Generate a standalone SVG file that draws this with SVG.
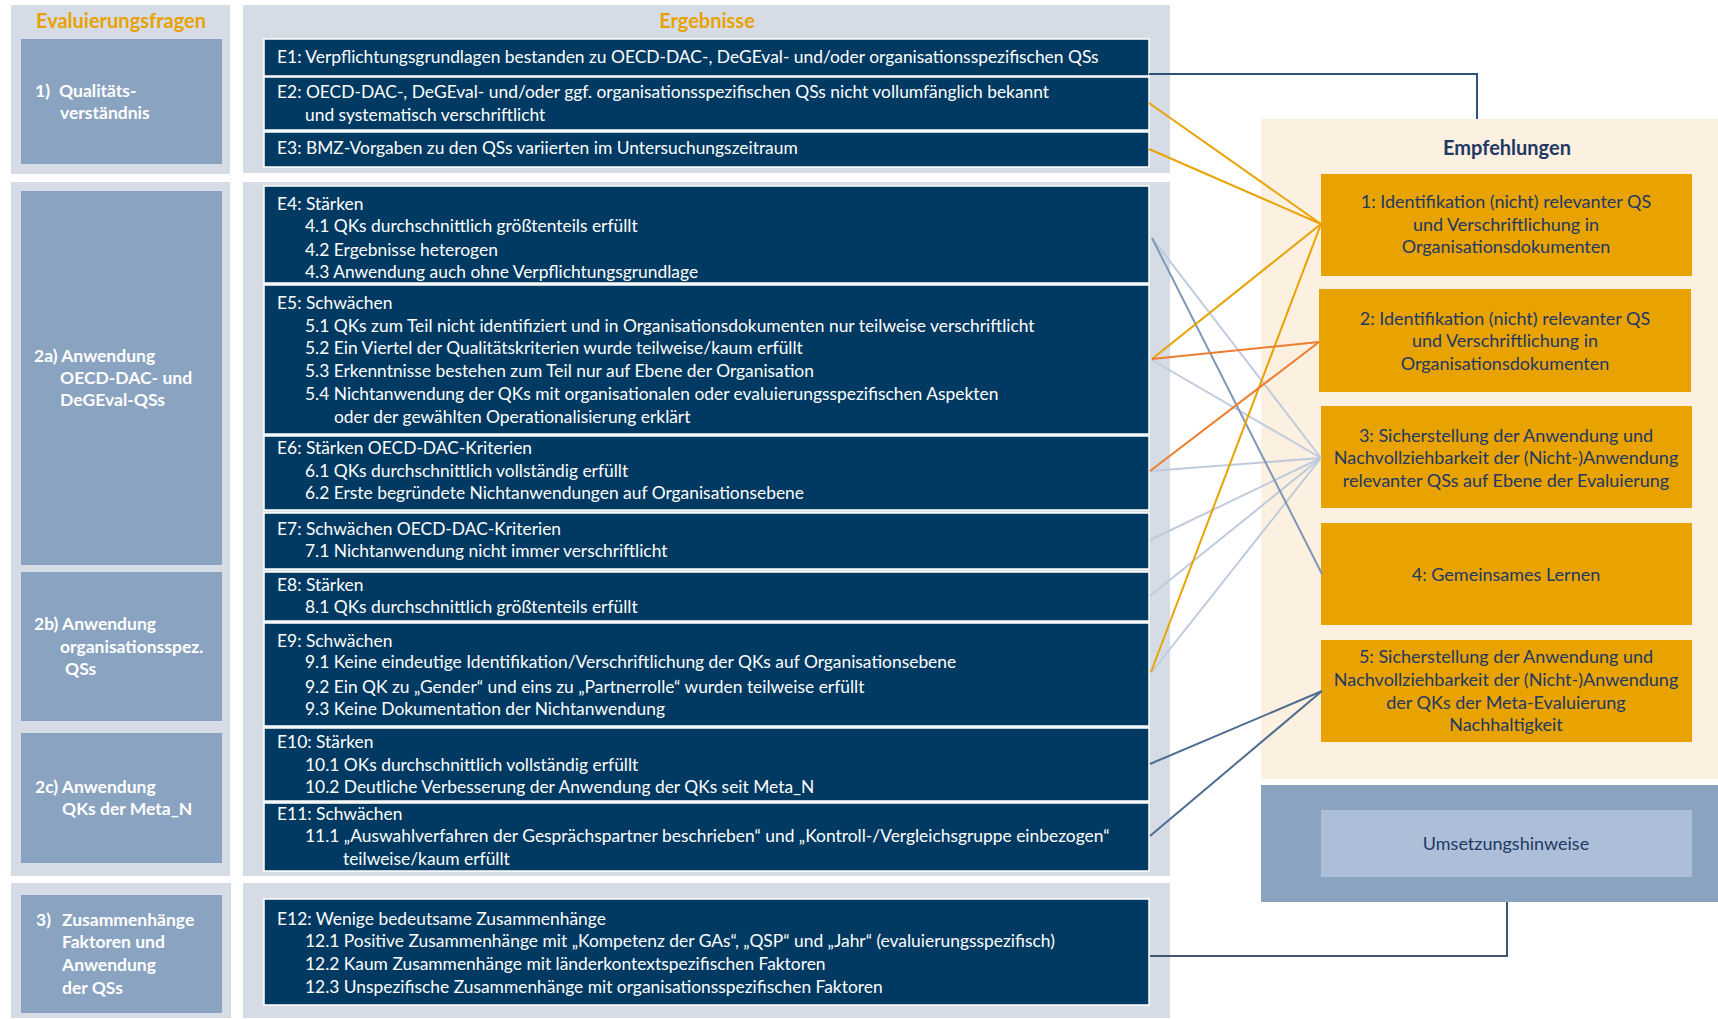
<svg xmlns="http://www.w3.org/2000/svg" width="1718" height="1019" viewBox="0 0 1718 1019">
<style>
.panel{fill:#D6DCE6}
.qbox{fill:#8AA3C0}
.ebox{fill:#003A62;stroke:#FFFFFF;stroke-width:1.5}
.rec{fill:#E8A300}
.t{font-family:Lato,"Liberation Sans",sans-serif;font-size:17.4px}
.w{fill:#FFFFFF}
.title{font-family:Lato,"Liberation Sans",sans-serif;font-size:20px;font-weight:bold;text-anchor:middle}
.ql{font-family:Lato,"Liberation Sans",sans-serif;font-size:17.5px;font-weight:bold;fill:#FFFFFF}
.rt{font-family:Lato,"Liberation Sans",sans-serif;font-size:18px;fill:#1F3864;text-anchor:middle}
.c{fill:none;stroke-width:2}
</style>
<rect width="1718" height="1019" fill="#FFFFFF"/>

<!-- Evaluierungsfragen column -->
<g id="col-fragen">
<rect class="panel" x="11" y="5" width="219" height="169"/>
<rect class="panel" x="11" y="182" width="219" height="694"/>
<rect class="panel" x="11" y="883" width="220" height="135"/>
<text class="title" x="121" y="28" fill="#E9A100">Evaluierungsfragen</text>
</g>
<g id="q1">
<rect class="qbox" x="21" y="39" width="201" height="125"/>
<text class="ql" x="35" y="97">1)</text>
<text class="ql" x="59" y="97">Qualitäts-</text>
<text class="ql" x="60" y="119">verständnis</text>
</g>
<g id="q2a">
<rect class="qbox" x="21" y="191" width="201" height="374"/>
<text class="ql" x="34" y="362">2a) Anwendung</text>
<text class="ql" x="60" y="384">OECD-DAC- und</text>
<text class="ql" x="60" y="406">DeGEval-QSs</text>
</g>
<g id="q2b">
<rect class="qbox" x="21" y="572" width="201" height="149"/>
<text class="ql" x="34" y="630">2b) Anwendung</text>
<text class="ql" x="60" y="653">organisationsspez.</text>
<text class="ql" x="65" y="675">QSs</text>
</g>
<g id="q2c">
<rect class="qbox" x="21" y="733" width="201" height="130"/>
<text class="ql" x="35" y="793">2c) Anwendung</text>
<text class="ql" x="62" y="815">QKs der Meta_N</text>
</g>
<g id="q3">
<rect class="qbox" x="21" y="895" width="201" height="118"/>
<text class="ql" x="36" y="926">3)</text>
<text class="ql" x="62" y="926">Zusammenhänge</text>
<text class="ql" x="62" y="948">Faktoren und</text>
<text class="ql" x="62" y="971">Anwendung</text>
<text class="ql" x="62" y="994">der QSs</text>
</g>

<!-- Ergebnisse column -->
<g id="col-ergebnisse">
<rect class="panel" x="243" y="5" width="927" height="168"/>
<rect class="panel" x="243" y="182" width="927" height="694"/>
<rect class="panel" x="243" y="883" width="927" height="135"/>
<text class="title" x="707" y="28" fill="#E9A100">Ergebnisse</text>
</g>
<g id="e1">
<rect class="ebox" x="264" y="39" width="885" height="37"/>
<text class="t w" x="277" y="63">E1: Verpflichtungsgrundlagen bestanden zu OECD-DAC-, DeGEval- und/oder organisationsspezifischen QSs</text>
</g>
<g id="e2">
<rect class="ebox" x="264" y="77" width="885" height="53"/>
<text class="t w" x="277" y="98">E2: OECD-DAC-, DeGEval- und/oder ggf. organisationsspezifischen QSs nicht vollumfänglich bekannt</text>
<text class="t w" x="305" y="121">und systematisch verschriftlicht</text>
</g>
<g id="e3">
<rect class="ebox" x="264" y="132" width="885" height="35"/>
<text class="t w" x="277" y="154">E3: BMZ-Vorgaben zu den QSs variierten im Untersuchungszeitraum</text>
</g>
<g id="e4">
<rect class="ebox" x="264" y="186" width="885" height="97"/>
<text class="t w" x="277" y="210">E4: Stärken</text>
<text class="t w" x="305" y="232">4.1 QKs durchschnittlich größtenteils erfüllt</text>
<text class="t w" x="305" y="256">4.2 Ergebnisse heterogen</text>
<text class="t w" x="305" y="278">4.3 Anwendung auch ohne Verpflichtungsgrundlage</text>
</g>
<g id="e5">
<rect class="ebox" x="264" y="285" width="885" height="149"/>
<text class="t w" x="277" y="309">E5: Schwächen</text>
<text class="t w" x="305" y="332">5.1 QKs zum Teil nicht identifiziert und in Organisationsdokumenten nur teilweise verschriftlicht</text>
<text class="t w" x="305" y="354">5.2 Ein Viertel der Qualitätskriterien wurde teilweise/kaum erfüllt</text>
<text class="t w" x="305" y="377">5.3 Erkenntnisse bestehen zum Teil nur auf Ebene der Organisation</text>
<text class="t w" x="305" y="400">5.4 Nichtanwendung der QKs mit organisationalen oder evaluierungsspezifischen Aspekten</text>
<text class="t w" x="334" y="423">oder der gewählten Operationalisierung erklärt</text>
</g>
<g id="e6">
<rect class="ebox" x="264" y="436" width="885" height="74"/>
<text class="t w" x="277" y="454">E6: Stärken OECD-DAC-Kriterien</text>
<text class="t w" x="305" y="477">6.1 QKs durchschnittlich vollständig erfüllt</text>
<text class="t w" x="305" y="499">6.2 Erste begründete Nichtanwendungen auf Organisationsebene</text>
</g>
<g id="e7">
<rect class="ebox" x="264" y="513" width="885" height="56"/>
<text class="t w" x="277" y="535">E7: Schwächen OECD-DAC-Kriterien</text>
<text class="t w" x="305" y="557">7.1 Nichtanwendung nicht immer verschriftlicht</text>
</g>
<g id="e8">
<rect class="ebox" x="264" y="572" width="885" height="49"/>
<text class="t w" x="277" y="591">E8: Stärken</text>
<text class="t w" x="305" y="613">8.1 QKs durchschnittlich größtenteils erfüllt</text>
</g>
<g id="e9">
<rect class="ebox" x="264" y="623" width="885" height="103"/>
<text class="t w" x="277" y="647">E9: Schwächen</text>
<text class="t w" x="305" y="668">9.1 Keine eindeutige Identifikation/Verschriftlichung der QKs auf Organisationsebene</text>
<text class="t w" x="305" y="693">9.2 Ein QK zu „Gender“ und eins zu „Partnerrolle“ wurden teilweise erfüllt</text>
<text class="t w" x="305" y="715">9.3 Keine Dokumentation der Nichtanwendung</text>
</g>
<g id="e10">
<rect class="ebox" x="264" y="728" width="885" height="73"/>
<text class="t w" x="277" y="748">E10: Stärken</text>
<text class="t w" x="305" y="771">10.1 OKs durchschnittlich vollständig erfüllt</text>
<text class="t w" x="305" y="793">10.2 Deutliche Verbesserung der Anwendung der QKs seit Meta_N</text>
</g>
<g id="e11">
<rect class="ebox" x="264" y="803" width="885" height="68"/>
<text class="t w" x="277" y="820">E11: Schwächen</text>
<text class="t w" x="305" y="842">11.1 „Auswahlverfahren der Gesprächspartner beschrieben“ und „Kontroll-/Vergleichsgruppe einbezogen“</text>
<text class="t w" x="343" y="865">teilweise/kaum erfüllt</text>
</g>
<g id="e12">
<rect class="ebox" x="264" y="899" width="885" height="106"/>
<text class="t w" x="277" y="925">E12: Wenige bedeutsame Zusammenhänge</text>
<text class="t w" x="305" y="947">12.1 Positive Zusammenhänge mit „Kompetenz der GAs“, „QSP“ und „Jahr“ (evaluierungsspezifisch)</text>
<text class="t w" x="305" y="970">12.2 Kaum Zusammenhänge mit länderkontextspezifischen Faktoren</text>
<text class="t w" x="305" y="993">12.3 Unspezifische Zusammenhänge mit organisationsspezifischen Faktoren</text>
</g>

<!-- Empfehlungen column -->
<g id="col-empfehlungen">
<rect x="1261" y="119" width="457" height="660" fill="#FCF0E0"/>
<text class="title" x="1507" y="155" fill="#1F3864">Empfehlungen</text>
</g>
<g id="r1">
<rect class="rec" x="1321" y="174" width="371" height="102"/>
<text class="rt" x="1506" y="208">1: Identifikation (nicht) relevanter QS</text>
<text class="rt" x="1506" y="231">und Verschriftlichung in</text>
<text class="rt" x="1506" y="253">Organisationsdokumenten</text>
</g>
<g id="r2">
<rect class="rec" x="1319" y="289" width="372" height="103"/>
<text class="rt" x="1505" y="325">2: Identifikation (nicht) relevanter QS</text>
<text class="rt" x="1505" y="347">und Verschriftlichung in</text>
<text class="rt" x="1505" y="370">Organisationsdokumenten</text>
</g>
<g id="r3">
<rect class="rec" x="1321" y="406" width="371" height="102"/>
<text class="rt" x="1506" y="442">3: Sicherstellung der Anwendung und</text>
<text class="rt" x="1506" y="464">Nachvollziehbarkeit der (Nicht-)Anwendung</text>
<text class="rt" x="1506" y="487">relevanter QSs auf Ebene der Evaluierung</text>
</g>
<g id="r4">
<rect class="rec" x="1321" y="523" width="371" height="102"/>
<text class="rt" x="1506" y="581">4: Gemeinsames Lernen</text>
</g>
<g id="r5">
<rect class="rec" x="1321" y="640" width="371" height="102"/>
<text class="rt" x="1506" y="663">5: Sicherstellung der Anwendung und</text>
<text class="rt" x="1506" y="686">Nachvollziehbarkeit der (Nicht-)Anwendung</text>
<text class="rt" x="1506" y="709">der QKs der Meta-Evaluierung</text>
<text class="rt" x="1506" y="731">Nachhaltigkeit</text>
</g>
<g id="umsetzung">
<rect x="1261" y="785" width="457" height="117" fill="#8AA3C0"/>
<rect x="1321" y="810" width="371" height="67" fill="#ADBFD8"/>
<text class="rt" x="1506" y="850" fill="#2B3A55">Umsetzungshinweise</text>
</g>

<!-- Connectors -->
<g id="connectors">
<polyline class="c" points="1149,74 1477,74 1477,119" stroke="#2F5078"/>
<polyline class="c" points="1150,956 1507,956 1507,902" stroke="#44546A"/>
<line class="c" x1="1152" y1="238" x2="1321" y2="458" stroke="#BFCBDD"/>
<line class="c" x1="1152" y1="360" x2="1321" y2="458" stroke="#BFCBDD"/>
<line class="c" x1="1150" y1="471" x2="1321" y2="458" stroke="#BFCBDD"/>
<line class="c" x1="1150" y1="540" x2="1321" y2="458" stroke="#BFCBDD"/>
<line class="c" x1="1150" y1="596" x2="1321" y2="458" stroke="#BFCBDD"/>
<line class="c" x1="1151" y1="673" x2="1321" y2="458" stroke="#BFCBDD"/>
<line class="c" x1="1152" y1="238" x2="1322" y2="574" stroke="#7F98B5"/>
<line class="c" x1="1149" y1="103" x2="1321" y2="224" stroke="#E8A300"/>
<line class="c" x1="1149" y1="149" x2="1321" y2="224" stroke="#E8A300"/>
<line class="c" x1="1152" y1="359" x2="1321" y2="224" stroke="#E8A300"/>
<line class="c" x1="1151" y1="672" x2="1321" y2="224" stroke="#E8A300"/>
<line class="c" x1="1152" y1="359" x2="1319" y2="342" stroke="#ED7D31"/>
<line class="c" x1="1150" y1="471" x2="1319" y2="342" stroke="#ED7D31"/>
<line class="c" x1="1150" y1="764" x2="1322" y2="691" stroke="#4E6D90"/>
<line class="c" x1="1150" y1="836" x2="1322" y2="691" stroke="#4E6D90"/>
</g>
</svg>
